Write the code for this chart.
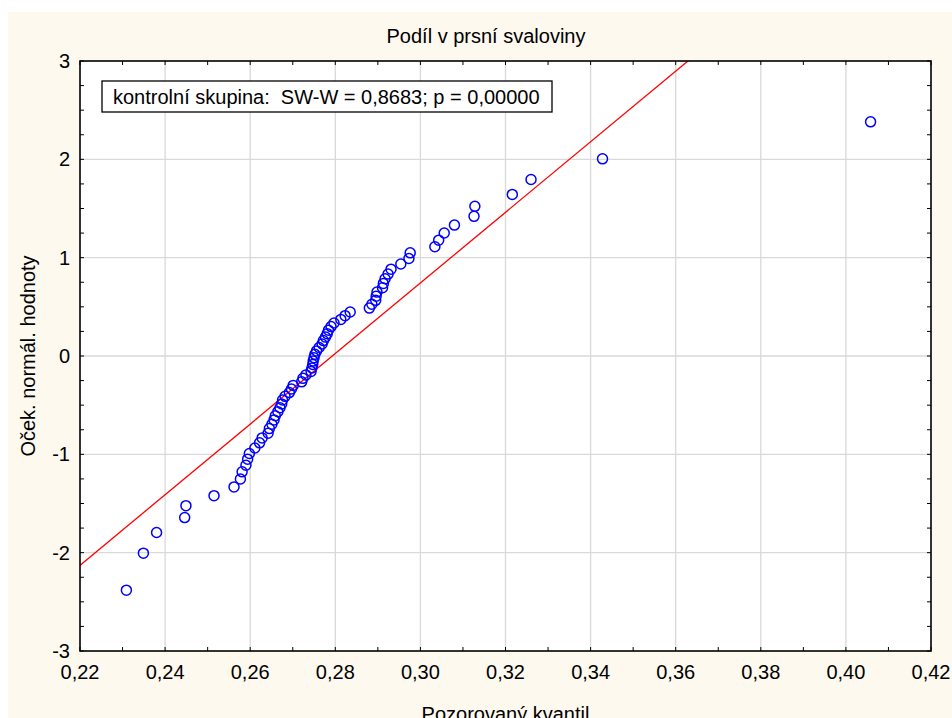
<!DOCTYPE html>
<html>
<head>
<meta charset="utf-8">
<script src="https://cdn.jsdelivr.net/npm/d3@7"></script>
<style>
  body { margin: 0; background: #ffffff; }
  svg { display: block; font-family: 'Liberation Sans', Arial, sans-serif; }
</style>
</head>
<body>
<div id="root"></div>
<script>
const observedValues = [
  0.2309, 0.2349, 0.2380, 0.2446, 0.2449, 0.2515, 0.2562, 0.2577, 0.2581, 0.2590,
  0.2594, 0.2598, 0.2611, 0.2622, 0.2628, 0.2642, 0.2645, 0.2651, 0.2656, 0.2659,
  0.2665, 0.2670, 0.2674, 0.2676, 0.2682, 0.2692, 0.2697, 0.2701, 0.2721, 0.2724,
  0.2731, 0.2743, 0.2745, 0.2747, 0.2748, 0.2750, 0.2752, 0.2756, 0.2762, 0.2769,
  0.2772, 0.2777, 0.2781, 0.2784, 0.2790, 0.2797, 0.2813, 0.2823, 0.2835, 0.2880,
  0.2886, 0.2895, 0.2896, 0.2898, 0.2911, 0.2913, 0.2917, 0.2924, 0.2931, 0.2954,
  0.2973, 0.2976, 0.3034, 0.3043, 0.3056, 0.3080, 0.3126, 0.3128, 0.3216, 0.3260,
  0.3428, 0.4058
];
const expectedValues = [
  -2.381, -2.005, -1.795, -1.643, -1.522, -1.420, -1.331, -1.251, -1.178, -1.111,
  -1.049, -0.991, -0.936, -0.883, -0.833, -0.785, -0.738, -0.694, -0.650, -0.608,
  -0.566, -0.526, -0.487, -0.448, -0.410, -0.372, -0.335, -0.299, -0.263, -0.227,
  -0.192, -0.157, -0.122, -0.087, -0.052, -0.017,
  0.017, 0.052, 0.087, 0.122, 0.157, 0.192, 0.227, 0.263, 0.299, 0.335,
  0.372, 0.410, 0.448, 0.487, 0.526, 0.566, 0.608, 0.650, 0.694, 0.738,
  0.785, 0.833, 0.883, 0.936, 0.991, 1.049, 1.111, 1.178, 1.251, 1.331,
  1.420, 1.522, 1.643, 1.795, 2.005, 2.381
];

// fitted normal line (mean, sd)
const fitMean = 0.2793;
const fitSd = 0.02786;

const xTicks = [0.22, 0.24, 0.26, 0.28, 0.30, 0.32, 0.34, 0.36, 0.38, 0.40, 0.42];
const xMinorTicks = d3.range(0.22, 0.4201, 0.01);
const yTicks = [-3, -2, -1, 0, 1, 2, 3];
const yMinorTicks = d3.range(-3, 3.001, 0.25);

const chartTitle = 'Podíl v prsní svaloviny';
const xLabel = 'Pozorovaný kvantil';
const yLabel = 'Oček. normál. hodnoty';
const legendText = 'kontrolní skupina:  SW-W = 0,8683; p = 0,00000';

function drawChart() {
  const dimensions = {
    width: 952,
    height: 718,
    margin: { top: 61, right: 21, bottom: 67, left: 80 },
  };
  dimensions.boundedWidth =
    dimensions.width - (dimensions.margin.left + dimensions.margin.right);
  dimensions.boundedHeight =
    dimensions.height - (dimensions.margin.top + dimensions.margin.bottom);

  const data = observedValues.map((v, i) => ({ x: v, y: expectedValues[i] }));

  const xScale = d3
    .scaleLinear()
    .domain([0.22, 0.42])
    .range([0, dimensions.boundedWidth]);

  const yScale = d3
    .scaleLinear()
    .domain([-3, 3])
    .range([dimensions.boundedHeight, 0]);

  const commaFormat = d => d3.format('.2f')(d).replace('.', ',');

  const wrapper = d3
    .select('#root')
    .append('svg')
    .attr('width', dimensions.width)
    .attr('height', dimensions.height);

  // cream page background
  wrapper
    .append('rect')
    .attr('x', 8)
    .attr('y', 12)
    .attr('width', dimensions.width - 8)
    .attr('height', dimensions.height - 12)
    .attr('fill', '#fdf9ef');

  wrapper
    .append('text')
    .attr('x', 486)
    .attr('y', 43)
    .attr('text-anchor', 'middle')
    .attr('font-size', 20)
    .text(chartTitle);

  const bounds = wrapper
    .append('g')
    .attr(
      'transform',
      `translate(${dimensions.margin.left}, ${dimensions.margin.top})`
    );

  bounds
    .append('rect')
    .attr('width', dimensions.boundedWidth)
    .attr('height', dimensions.boundedHeight)
    .attr('fill', '#ffffff');

  bounds
    .append('clipPath')
    .attr('id', 'plot-clip')
    .append('rect')
    .attr('width', dimensions.boundedWidth)
    .attr('height', dimensions.boundedHeight);

  // grid
  const gridGroup = bounds.append('g').attr('stroke', '#d9d9d9').attr('stroke-width', 1.3);
  gridGroup
    .selectAll('line.vgrid')
    .data(xTicks.slice(1, -1))
    .join('line')
    .attr('class', 'vgrid')
    .attr('x1', d => xScale(d))
    .attr('x2', d => xScale(d))
    .attr('y1', 0)
    .attr('y2', dimensions.boundedHeight);
  gridGroup
    .selectAll('line.hgrid')
    .data(yTicks.slice(1, -1))
    .join('line')
    .attr('class', 'hgrid')
    .attr('y1', d => yScale(d))
    .attr('y2', d => yScale(d))
    .attr('x1', 0)
    .attr('x2', dimensions.boundedWidth);

  // fitted line
  const lineX = [0.2, 0.44];
  const lineGenerator = d3
    .line()
    .x(d => xScale(d))
    .y(d => yScale((d - fitMean) / fitSd));
  bounds
    .append('path')
    .attr('clip-path', 'url(#plot-clip)')
    .attr('fill', 'none')
    .attr('stroke', '#ff0000')
    .attr('stroke-width', 1.3)
    .attr('d', lineGenerator(lineX));

  // points
  bounds
    .append('g')
    .selectAll('circle')
    .data(data)
    .join('circle')
    .attr('cx', d => xScale(d.x))
    .attr('cy', d => yScale(d.y))
    .attr('r', 5)
    .attr('fill', 'none')
    .attr('stroke', '#0000ff')
    .attr('stroke-width', 1.5);

  // inward ticks on all four sides
  const tickLength = 4;
  const axisGroup = bounds.append('g').attr('stroke', '#000000').attr('stroke-width', 1);
  [0, dimensions.boundedHeight].forEach(yPos => {
    const dir = yPos === 0 ? 1 : -1;
    axisGroup
      .append('g')
      .selectAll('line')
      .data(xMinorTicks)
      .join('line')
      .attr('x1', d => xScale(d))
      .attr('x2', d => xScale(d))
      .attr('y1', yPos)
      .attr('y2', yPos + dir * tickLength);
  });
  [0, dimensions.boundedWidth].forEach(xPos => {
    const dir = xPos === 0 ? 1 : -1;
    axisGroup
      .append('g')
      .selectAll('line')
      .data(yMinorTicks)
      .join('line')
      .attr('y1', d => yScale(d))
      .attr('y2', d => yScale(d))
      .attr('x1', xPos)
      .attr('x2', xPos + dir * tickLength);
  });

  bounds
    .append('rect')
    .attr('width', dimensions.boundedWidth)
    .attr('height', dimensions.boundedHeight)
    .attr('fill', 'none')
    .attr('stroke', '#000000')
    .attr('stroke-width', 1.6);

  // tick labels
  bounds
    .append('g')
    .selectAll('text')
    .data(xTicks)
    .join('text')
    .attr('x', d => xScale(d))
    .attr('y', dimensions.boundedHeight + 28)
    .attr('text-anchor', 'middle')
    .attr('font-size', 20)
    .text(commaFormat);

  bounds
    .append('g')
    .selectAll('text')
    .data(yTicks)
    .join('text')
    .attr('x', -10)
    .attr('y', d => yScale(d) + 7)
    .attr('text-anchor', 'end')
    .attr('font-size', 20)
    .text(d => d);

  // legend box
  const legend = bounds.append('g').attr('transform', 'translate(22, 20)');
  legend
    .append('rect')
    .attr('width', 450)
    .attr('height', 31)
    .attr('fill', '#ffffff')
    .attr('stroke', '#000000')
    .attr('stroke-width', 1.3);
  legend
    .append('text')
    .attr('x', 11)
    .attr('y', 23)
    .attr('font-size', 20)
    .style('white-space', 'pre')
    .text(legendText);

  // axis titles
  wrapper
    .append('text')
    .attr('x', dimensions.margin.left + dimensions.boundedWidth / 2)
    .attr('y', 721)
    .attr('text-anchor', 'middle')
    .attr('font-size', 20)
    .text(xLabel);

  wrapper
    .append('text')
    .attr('transform', `translate(35, ${dimensions.margin.top + dimensions.boundedHeight / 2}) rotate(-90)`)
    .attr('text-anchor', 'middle')
    .attr('font-size', 20)
    .text(yLabel);
}

drawChart();
</script>
</body>
</html>
